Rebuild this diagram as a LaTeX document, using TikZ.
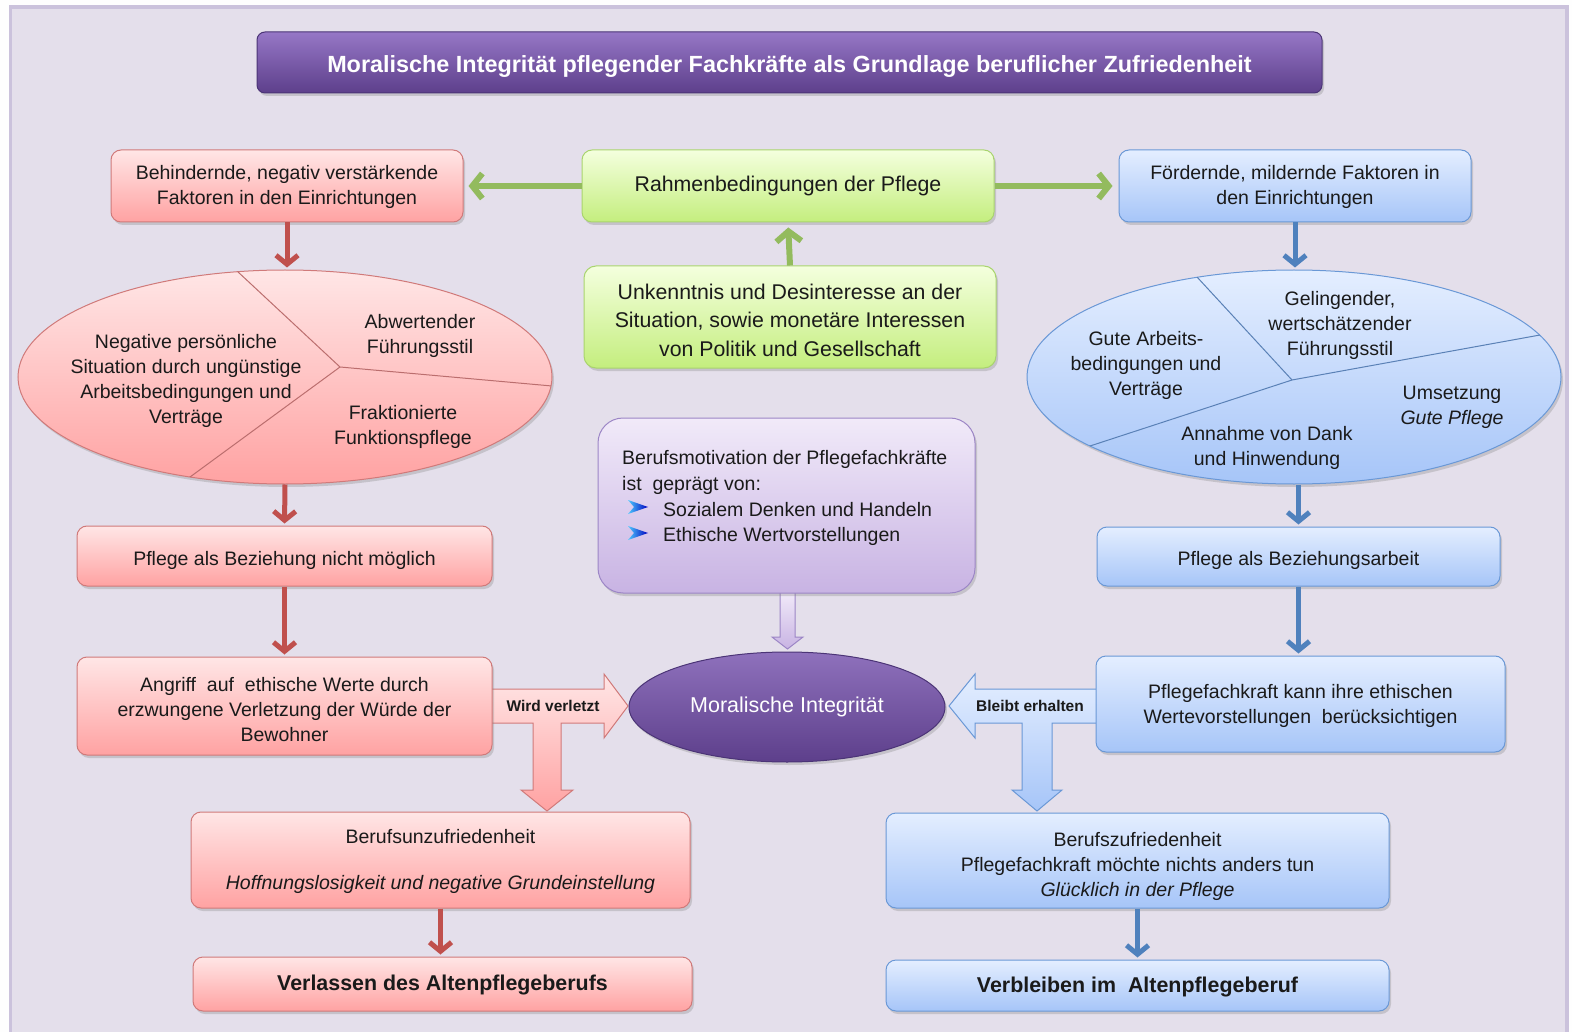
\documentclass[tikz,border=0pt]{standalone}
\usepackage{fontspec}
\setmainfont{Liberation Sans}
\usetikzlibrary{shapes.geometric,shadows,arrows.meta}
\definecolor{bgc}{HTML}{E4DFEB}
\definecolor{framec}{HTML}{CBC2DC}
\definecolor{txt}{HTML}{1A1A1A}
\definecolor{redtop}{HTML}{FFE6E6}
\definecolor{redbot}{HTML}{FFA2A2}
\definecolor{redline}{HTML}{D07A7A}
\definecolor{bluetop}{HTML}{E4EEFF}
\definecolor{bluebot}{HTML}{A6C5F8}
\definecolor{blueline}{HTML}{6A98D6}
\definecolor{greentop}{HTML}{F4FFDE}
\definecolor{greenbot}{HTML}{C4EE7E}
\definecolor{greenline}{HTML}{A9D46E}
\definecolor{ptop}{HTML}{F1EAF9}
\definecolor{pbot}{HTML}{C8B3E3}
\definecolor{pline}{HTML}{9C86C6}
\definecolor{ttop}{HTML}{9677C6}
\definecolor{tbot}{HTML}{5D3F8B}
\definecolor{tline}{HTML}{4B3476}
\definecolor{arrred}{HTML}{C0504D}
\definecolor{arrblue}{HTML}{4F81BD}
\definecolor{arrgreen}{HTML}{93BB5E}
\pgfdeclarelayer{back}
\pgfdeclarelayer{bg}
\pgfsetlayers{back,bg,main}
\newcommand\fontA{\fontsize{19.5}{25}\selectfont}
\newcommand\fontG{\fontsize{21.3}{28.5}\selectfont}
\newcommand\fontP{\fontsize{19.5}{25.6}\selectfont}
\begin{document}
\begin{tikzpicture}[x=1pt,y=-1pt,
  shd/.style={drop shadow={shadow xshift=2pt,shadow yshift=-3pt,opacity=0.3}},
  sz/.style 2 args={minimum width=#1pt, minimum height=#2pt},
  vp/.style 2 args={text height=#1pt, text depth=#2pt},
  box/.style={rounded corners=10pt, line width=1pt, align=center, inner sep=0pt, text=txt, font=\fontA, shd},
  rbox/.style={box, draw=redline, top color=redtop, bottom color=redbot},
  bbox/.style={box, draw=blueline, top color=bluetop, bottom color=bluebot},
  gbox/.style={box, draw=greenline, top color=greentop, bottom color=greenbot, font=\fontG},
  ell/.style={ellipse, line width=1pt, inner sep=0pt, shd},
  etext/.style={align=center, inner sep=0pt, text=txt, font=\fontA},
  rarrow/.style={draw=arrred, line width=5pt, -{Straight Barb[length=9pt,width=22pt]}},
  barrow/.style={draw=arrblue, line width=5pt, -{Straight Barb[length=9pt,width=22pt]}},
  garrow/.style={draw=arrgreen, line width=6pt, -{Straight Barb[length=10pt,width=25pt]}},
  blabel/.style={font=\fontsize{15.5}{18}\selectfont\bfseries, text=txt, inner sep=0pt},
]
\useasboundingbox (0,0) rectangle (1572,1032);
\begin{pgfonlayer}{back}
\fill[white!96!bgc] (0,0) rectangle (1572,1032);
\draw[framec, line width=3.5pt, fill=bgc] (10.5,7) rectangle (1567,1045);
\end{pgfonlayer}

% title
\node[box, rounded corners=8pt, draw=tline, top color=ttop, bottom color=tbot, text=white,
      font=\fontsize{23.4}{28}\selectfont\bfseries, sz={1065}{61}, vp={30}{10}] (title) at (789.5,62.5)
  {Moralische Integrität pflegender Fachkräfte als Grundlage beruflicher Zufriedenheit};

% top row
\node[rbox, sz={352}{72}, vp={51}{14}] (r1) at (287,186) {Behindernde, negativ verstärkende\\Faktoren in den Einrichtungen};
\node[gbox, sz={412}{72}, vp={25.5}{14.5}] (g1) at (788,186) {Rahmenbedingungen der Pflege};
\node[bbox, sz={352}{72}, vp={51}{14}] (b1) at (1295,186) {Fördernde, mildernde Faktoren in\\den Einrichtungen};
\node[gbox, rounded corners=12pt, sz={412}{102}, vp={88}{9}] (g2) at (790,317) {Unkenntnis und Desinteresse an der\\Situation, sowie monetäre Interessen\\von Politik und Gesellschaft};

% ellipses
\node[ell, draw=redline, top color=redtop, bottom color=redbot, sz={534}{214}] (rell) at (285,377) {};
\node[ell, draw=blueline, top color=bluetop, bottom color=bluebot, sz={534}{214}] (bell) at (1294,377) {};
\begin{scope}
\clip (285,377) ellipse [x radius=267pt, y radius=107pt];
\draw[redline!90!black, line width=1pt] (226.7,261.4) -- (340,367) -- (572,387.8);
\draw[redline!90!black, line width=1pt] (340,367) -- (170,491.7);
\end{scope}
\begin{scope}
\clip (1294,377) ellipse [x radius=267pt, y radius=107pt];
\draw[blueline!85!black, line width=1pt] (1187.5,266.7) -- (1292,380);
\draw[blueline!85!black, line width=1pt] (1069.8,452.6) -- (1292,380) -- (1564.8,330.5);
\end{scope}
\node[etext, vp={103.25}{11.75}] (e1) at (186,378) {Negative persönliche\\Situation durch ungünstige\\Arbeitsbedingungen und\\Verträge};
\node[etext, vp={54}{11}] (e2) at (420,332) {Abwertender\\Führungsstil};
\node[etext, vp={54}{11}] (e3) at (403,423) {Fraktionierte\\Funktionspflege};
\node[etext, vp={78.5}{11.5}] (e4) at (1146,362) {Gute Arbeits-\\bedingungen und\\Verträge};
\node[etext, vp={79.2}{10.8}] (e5) at (1340,321) {Gelingender,\\wertschätzender\\Führungsstil};
\node[etext, vp={53}{12}] (e6) at (1452,404) {Umsetzung\\\textit{Gute Pflege}};
\node[etext, vp={54}{11}] (e7) at (1267,444) {Annahme von Dank\\und Hinwendung};

% middle
\node[box, rounded corners=25pt, draw=pline, top color=ptop, bottom color=pbot, sz={377}{175}] (pbox) at (786.5,505.5) {};
\node[anchor=north west, align=left, inner sep=0pt, text=txt, font=\fontP] (ptext) at (622,450.5)
  {Berufsmotivation der Pflegefachkräfte\\ist\ \ geprägt von:\\\hspace*{41pt}Sozialem Denken und Handeln\\\hspace*{41pt}Ethische Wertvorstellungen};
\foreach \yy in {507,533}
  \shade[left color=cyan!70!blue!70, right color=blue!75!black] (628,\yy-7) -- (648,\yy) -- (628,\yy+7) -- (634,\yy) -- cycle;

\node[rbox, sz={415}{60}, vp={29.5}{10.5}] (r3) at (284.5,556) {Pflege als Beziehung nicht möglich};
\node[bbox, sz={403}{59}, vp={29}{11}] (b3) at (1298.5,556.5) {Pflege als Beziehungsarbeit};
\node[rbox, sz={415}{98}, vp={80.5}{9.5}] (r4) at (284.5,706) {Angriff\ \ auf\ \ ethische Werte durch\\erzwungene Verletzung der Würde der\\Bewohner};
\node[bbox, sz={409}{96}, vp={52}{13}] (b4) at (1300.5,704) {Pflegefachkraft kann ihre ethischen\\Wertevorstellungen\ \ berücksichtigen};
\node[ell, draw=tline, top color=ttop!95!black, bottom color=tbot, text=white, font=\fontsize{21.5}{26}\selectfont, sz={316}{110}] (pell) at (787,707) {Moralische Integrität};

% bottom
\node[rbox, sz={499}{96}, vp={72.5}{13.5}] (r5) at (440.5,860) {Berufsunzufriedenheit\\[21pt]\textit{Hoffnungslosigkeit und negative Grundeinstellung}};
\node[bbox, sz={503}{95}, vp={81}{9}] (b5) at (1137.5,860.5) {Berufszufriedenheit\\Pflegefachkraft möchte nichts anders tun\\\textit{Glücklich in der Pflege}};
\node[rbox, font=\fontsize{21.4}{26}\selectfont\bfseries, sz={499}{54}, vp={26.7}{13.3}] (r6) at (442.5,984) {Verlassen des Altenpflegeberufs};
\node[bbox, font=\fontsize{21.4}{26}\selectfont\bfseries, sz={503}{51}, vp={27.2}{12.8}] (b6) at (1137.5,985.5) {Verbleiben im\ \ Altenpflegeberuf};

% block arrows
\begin{pgfonlayer}{bg}
\draw[draw=redline, line width=1pt, top color=redtop, bottom color=redbot]
  (488,689) -- (604,689) -- (604,674) -- (628,706) -- (604,738) -- (604,723) -- (561,723) -- (561,790)
  -- (573,790) -- (547,811) -- (521,790) -- (533,790) -- (533,723) -- (488,723) -- cycle;
\draw[draw=blueline, line width=1pt, top color=bluetop, bottom color=bluebot]
  (1100,689) -- (975,689) -- (975,674) -- (949,706) -- (975,738) -- (975,723) -- (1022,723) -- (1022,790)
  -- (1012,790) -- (1037,811) -- (1062,790) -- (1052,790) -- (1052,723) -- (1100,723) -- cycle;
\draw[draw=pline, line width=1pt, top color=ptop, bottom color=pbot]
  (780,592) -- (795,592) -- (795,637) -- (803,637) -- (787.5,649) -- (772,637) -- (780,637) -- cycle;
\end{pgfonlayer}
\node[blabel] (wv) at (553,706) {Wird verletzt};
\node[blabel] (be) at (1030,706) {Bleibt erhalten};

% connectors
\draw[garrow, shorten >=5pt] (g1.west) -- (r1.east);
\draw[garrow, shorten >=6pt] (g1.east) -- (b1.west);
\draw[garrow, shorten >=5pt] (g2.north) -- (g1.south);
\draw[rarrow, shorten >=2pt] (r1.south) -- (r1.south |- rell.north);
\draw[rarrow, shorten >=2pt] (rell.south) -- (r3.north);
\draw[rarrow, shorten >=2pt] (r3.south) -- (r3.south |- r4.north);
\draw[rarrow, shorten >=2pt] (r5.south) -- (r5.south |- r6.north);
\draw[barrow, shorten >=2pt] (b1.south) -- (b1.south |- bell.north);
\draw[barrow, shorten >=2pt] (bell.south -| b3.north) -- (b3.north);
\draw[barrow, shorten >=2pt] (b3.south) -- (b3.south |- b4.north);
\draw[barrow, shorten >=2pt] (b5.south) -- (b5.south |- b6.north);
\end{tikzpicture}
\end{document}
